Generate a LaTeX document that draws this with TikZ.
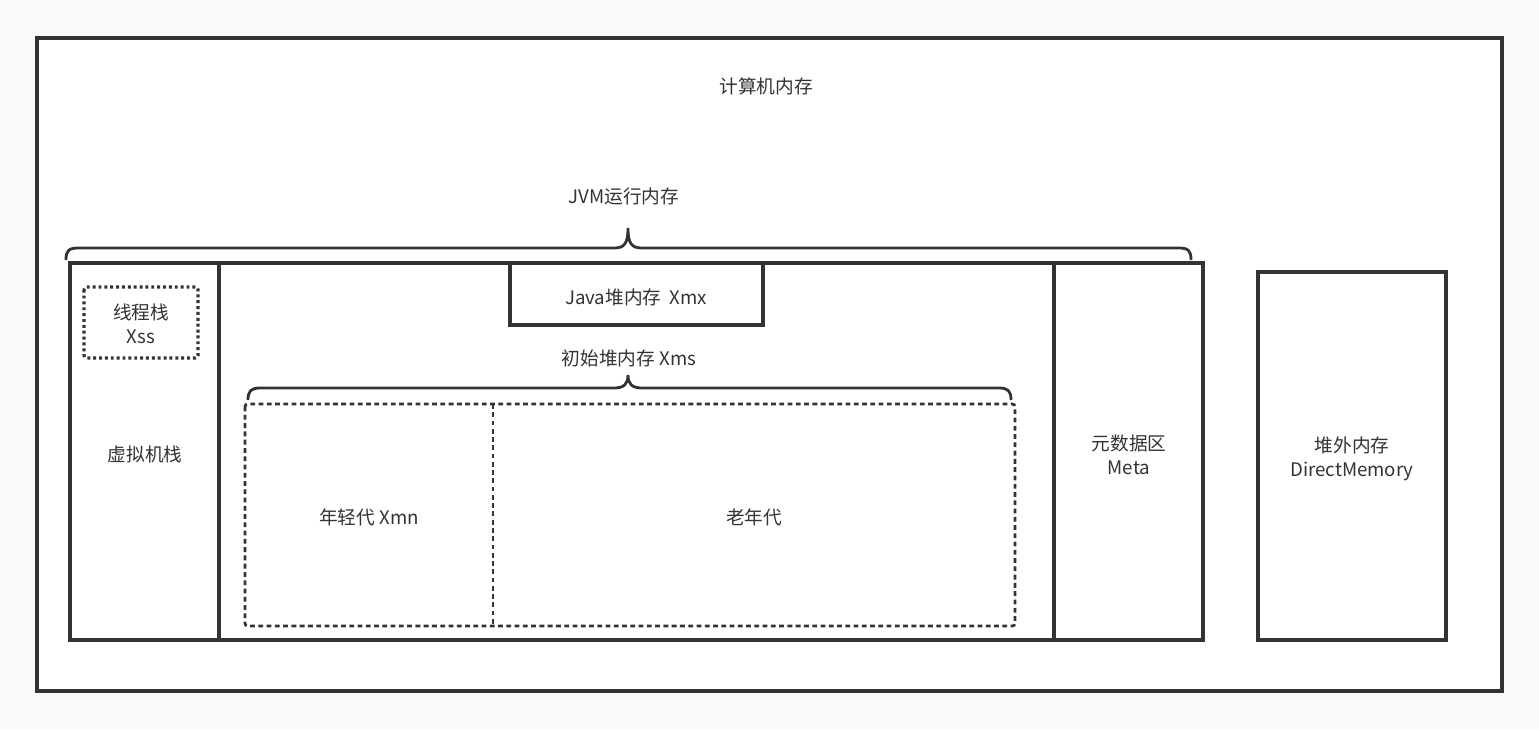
\documentclass[tikz,border=0pt]{standalone}
\usepackage{fontspec}
\setmainfont{Noto Sans CJK SC}
\definecolor{linegray}{HTML}{333333}
\definecolor{pagegray}{HTML}{F9F9F9}
\tikzset{
    box/.style={draw=linegray, line width=2.4pt},
    dotbox/.style={draw=linegray, line width=2.4pt, dash pattern=on 2.2pt off 2.2pt, rounded corners=2pt},
    dashbox/.style={draw=linegray, line width=2.1pt, dash pattern=on 3.6pt off 2.6pt, rounded corners=2pt},
    brace/.style={draw=linegray, line width=2.1pt},
    label/.style={text=linegray, font=\fontsize{14}{18}\selectfont, align=center, inner sep=0pt}
}
\begin{document}
\begin{tikzpicture}[x=0.75pt, y=-0.75pt]
    %Bakgrunn
        \fill[pagegray] (0,0) rectangle (1539,729);
        \useasboundingbox (0,0) rectangle (1539,729);
        \filldraw[fill=white, draw=linegray, line width=2.4pt] (37,38) rectangle (1502,691);
        \node[label] (mem) at (766,86) {计算机内存};

    %JVM
        \node[label] (jvm) at (624,196) {JVM运行内存};
        \draw[brace] (66,260) .. controls (66,250) and (69,248) .. (79,248) -- (614,248)
            .. controls (624,248) and (628,244) .. (628,228)
            .. controls (628,244) and (632,248) .. (642,248) -- (1178,248)
            .. controls (1188,248) and (1191,250) .. (1191,260);
        \draw[box] (70,263) rectangle (1203,640);
        \draw[box] (219,263) -- (219,640);
        \draw[box] (1054,263) -- (1054,640);

    %Stakk
        \draw[dotbox] (84,287) rectangle (198,358);
        \node[label] (xss) at (141,324) {线程栈\\Xss};
        \node[label] (vmstack) at (145,454) {虚拟机栈};

    %Heap
        \draw[box] (510,263) rectangle (763,325);
        \node[label] (xmx) at (636,297) {Java堆内存~~Xmx};
        \node[label] (xms) at (629,358) {初始堆内存 Xms};
        \draw[brace] (248,400) .. controls (248,391) and (251,388) .. (260,388) -- (614,388)
            .. controls (624,388) and (628,384) .. (628,375)
            .. controls (628,384) and (632,388) .. (642,388) -- (999,388)
            .. controls (1008,388) and (1011,391) .. (1011,400);
        \draw[dashbox] (245,404) rectangle (1015,626);
        \draw[dashbox] (493,404) -- (493,626);
        \node[label] (young) at (369,517) {年轻代 Xmn};
        \node[label] (old) at (754,517) {老年代};

    %Meta
        \node[label] (meta) at (1129,455) {元数据区\\Meta};

    %Direkte
        \draw[box] (1258,272) rectangle (1446,640);
        \node[label] (direct) at (1352,459) {堆外内存\\DirectMemory};
\end{tikzpicture}
\end{document}
